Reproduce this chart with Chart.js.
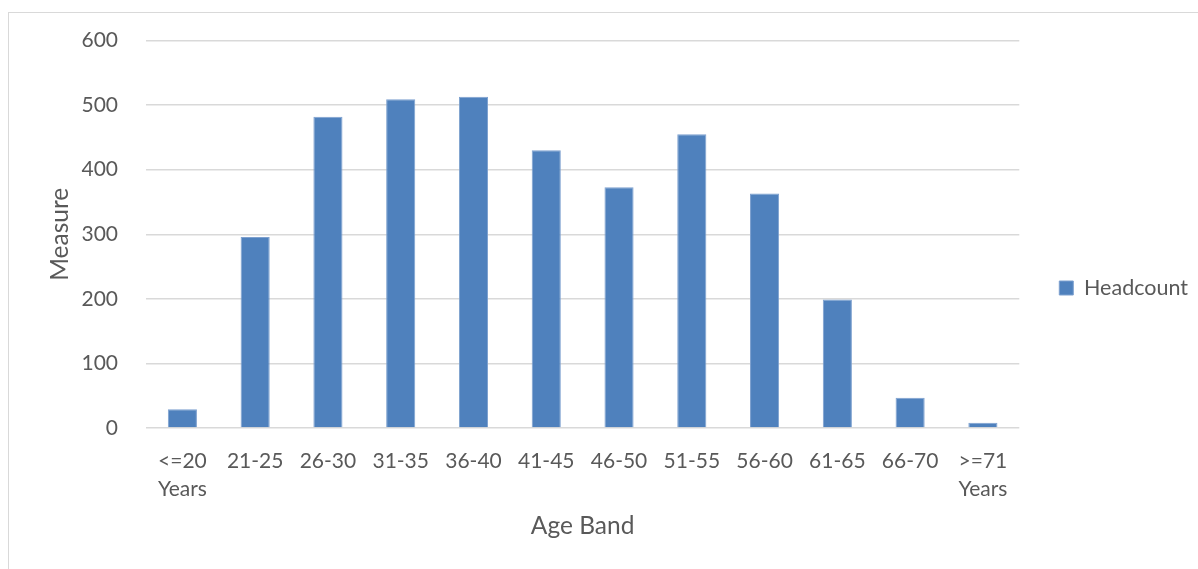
<!DOCTYPE html>
<html>
<head>
<meta charset="utf-8">
<script src="https://cdn.jsdelivr.net/npm/chart.js@4"></script>
<style>
  html, body { margin: 0; padding: 0; background: #fff; overflow: hidden; }
  #frame { position: absolute; left: 8px; top: 12px; width: 1400px; height: 800px; border: 1px solid #d9d9d9; }
  #wrap { position: absolute; left: 0; top: 0; width: 1198px; height: 569px; }
</style>
</head>
<body>
<div id="frame"></div>
<div id="wrap"><canvas id="ageChart"></canvas></div>
<script>
const ageBands = [['<=20', 'Years'], '21-25', '26-30', '31-35', '36-40', '41-45', '46-50', '51-55', '56-60', '61-65', '66-70', ['>=71', 'Years']];
const headcount = [29, 296, 482, 509, 513, 430, 373, 455, 363, 199, 47, 8];
const yTicks = [0, 100, 200, 300, 400, 500, 600];

const textColor = '#595959';
const fontFamily = 'Lato, "Open Sans", sans-serif';

const ctx = document.getElementById('ageChart').getContext('2d');
new Chart(ctx, {
  type: 'bar',
  data: {
    labels: ageBands,
    datasets: [{
      label: 'Headcount',
      data: headcount,
      backgroundColor: '#4f81bd',
      borderColor: '#7da0cf',
      borderWidth: 1,
      barPercentage: 0.4,
      categoryPercentage: 1.0
    }]
  },
  options: {
    responsive: true,
    maintainAspectRatio: false,
    animation: false,
    layout: { padding: { top: 31, left: 41, right: 0, bottom: 24 } },
    plugins: {
      legend: {
        position: 'right',
        labels: {
          color: textColor,
          font: { family: fontFamily, size: 21.5 },
          boxWidth: 14,
          boxHeight: 14,
          padding: 40
        }
      },
      tooltip: { enabled: false }
    },
    scales: {
      x: {
        afterFit: axis => { axis.height = 117; },
        grid: { display: false, drawTicks: false },
        border: { display: false },
        ticks: {
          color: textColor,
          font: { family: fontFamily, size: 21, lineHeight: 1.33 },
          maxRotation: 0,
          autoSkip: false,
          padding: 19
        },
        title: {
          display: true,
          text: 'Age Band',
          color: textColor,
          font: { family: fontFamily, size: 24.5 }
        }
      },
      y: {
        min: 0,
        max: 600,
        afterFit: axis => { axis.width = 105; },
        afterBuildTicks: axis => { axis.ticks = yTicks.map(v => ({ value: v })); },
        grid: { color: '#d9d9d9', lineWidth: 1.5, drawTicks: false },
        border: { display: false },
        ticks: {
          color: textColor,
          font: { family: fontFamily, size: 21 },
          padding: 28
        },
        title: {
          display: true,
          text: 'Measure',
          color: textColor,
          font: { family: fontFamily, size: 24.5 }
        }
      }
    }
  }
});
</script>
</body>
</html>
